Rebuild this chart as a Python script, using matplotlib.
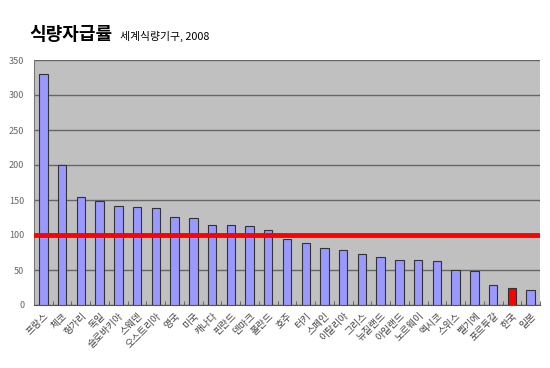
import matplotlib
matplotlib.use('Agg')
from matplotlib import pyplot as plt
import numpy as np

plt.rcParams['font.family'] = ['Noto Sans CJK KR', 'DejaVu Sans']

# country names and self-sufficiency rates (%)
countries = ['프랑스', '체코', '헝가리', '독일', '슬로바키아', '스웨덴', '오스트리아', '영국',
             '미국', '캐나다', '핀란드', '덴마크', '폴란드', '호주', '터키', '스페인', '이탈리아',
             '그리스', '뉴질랜드', '아일랜드', '노르웨이', '멕시코', '스위스', '벨기에', '포르투갈',
             '한국', '일본']
rates = [330, 200, 154, 149, 141, 140, 138, 126, 125, 114, 114, 113, 107, 94, 89, 82, 78,
         73, 69, 65, 64, 63, 50, 49, 28, 25, 22]
highlight = '한국'
yticks = [0, 50, 100, 150, 200, 250, 300, 350]

fig = plt.figure(figsize=(5.5, 3.68), dpi=100)
ax = fig.add_axes([34 / 550, 63 / 368, 506 / 550, 245 / 368])
ax.set_facecolor('#c0c0c0')

x = np.arange(len(countries))
colors = ['#ff0000' if c == highlight else '#9999ff' for c in countries]
ax.bar(x, rates, width=0.45, color=colors, edgecolor='#333333', linewidth=0.8, zorder=3)
ax.axhline(100, color='#ff0000', linewidth=3.5, zorder=4)

ax.set_xlim(-0.5, len(countries) - 0.5)
ax.set_ylim(0, 350)
ax.set_yticks(yticks)
ax.yaxis.grid(True, color='#666666', linewidth=1, zorder=0)
ax.tick_params(axis='y', length=0, labelsize=6.5, labelcolor='#666666', pad=7)
ax.set_xticks(x)
ax.set_xticklabels(countries, rotation=45, ha='right', rotation_mode='anchor',
                   fontsize=7, color='#444444')
ax.set_xticks(np.arange(-0.5, len(countries)), minor=True)
ax.tick_params(axis='x', which='major', length=0, pad=4)
ax.tick_params(axis='x', which='minor', length=3, color='#555555', direction='in')
for s in ['top', 'right']:
    ax.spines[s].set_visible(False)
ax.spines['left'].set_color('#777777')
ax.spines['bottom'].set_color('#555555')

fig.text(29 / 550, 1 - 35 / 368, '식량자급률', fontsize=13, fontweight='bold', va='center')
fig.text(120 / 550, 1 - 36 / 368, '세계식량기구, 2008', fontsize=7.8, va='center')

fig.savefig('out.png', dpi=100, facecolor='white')
